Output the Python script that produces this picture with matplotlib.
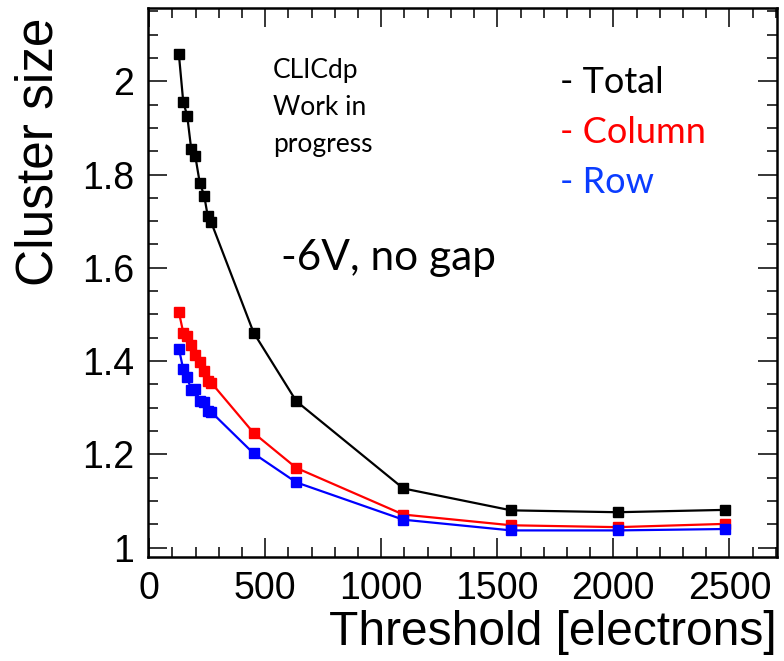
import matplotlib
matplotlib.use("Agg")
import matplotlib.pyplot as plt
from matplotlib.ticker import MultipleLocator

# Threshold scan: cluster size vs. threshold
threshold = [128, 147, 164, 181, 199, 218, 237, 252, 267, 450, 634, 1095, 1560, 2018, 2480]
total = [2.058, 1.955, 1.926, 1.855, 1.839, 1.782, 1.755, 1.712, 1.698,
         1.461, 1.314, 1.127, 1.080, 1.076, 1.081]
column = [1.505, 1.461, 1.454, 1.434, 1.412, 1.398, 1.378, 1.358, 1.354,
          1.246, 1.171, 1.071, 1.048, 1.044, 1.051]
row = [1.427, 1.382, 1.366, 1.337, 1.341, 1.314, 1.312, 1.294, 1.291,
       1.202, 1.140, 1.060, 1.037, 1.037, 1.040]

series = [("Total", total, "black", "black"),
          ("Column", column, "#ff0000", "#ff0000"),
          ("Row", row, "#0000ff", "#0a3cff")]

W, H = 784, 661
fig = plt.figure(figsize=(W / 100, H / 100), dpi=100)
ax = fig.add_axes([148 / W, 1 - 557 / H, (777 - 148) / W, (557 - 8) / H])

for name, vals, c, _ in series:
    ax.plot(threshold, vals, color=c, lw=1.6, marker="s", ms=6.5,
            mec=c, mfc=c, zorder=3)

ax.set_xlim(-5, 2705)
ax.set_ylim(0.98, 2.157)

ax.xaxis.set_major_locator(MultipleLocator(500))
ax.xaxis.set_minor_locator(MultipleLocator(100))
ax.yaxis.set_major_locator(MultipleLocator(0.2))
ax.yaxis.set_minor_locator(MultipleLocator(0.05))
ax.yaxis.set_major_formatter(plt.FuncFormatter(lambda v, p: f"{v:g}"))

tick_font = "Liberation Sans"
ax.tick_params(which="both", direction="in", top=True, right=True,
               width=1.1, color="black")
ax.tick_params(which="major", length=14, labelsize=27, pad=10)
ax.tick_params(which="minor", length=7)
for lab in ax.get_xticklabels() + ax.get_yticklabels():
    lab.set_fontfamily(tick_font)
for s in ax.spines.values():
    s.set_linewidth(1.8)

ax.set_xlabel("Threshold [electrons]", fontsize=34.5, family=tick_font,
              loc="right", labelpad=2)
ax.set_ylabel("Cluster size", fontsize=37, family=tick_font, loc="top")
ax.yaxis.set_label_coords(-0.135, 0.983)

# Annotations
ann_font = "Lato"
for i, line in enumerate(["CLICdp", "Work in", "progress"]):
    fig.text(273 / W, 1 - (78 + 37 * i) / H, line, fontsize=19,
             family=ann_font, va="baseline", ha="left")

for i, (name, _, _, tc) in enumerate(series):
    fig.text(560 / W, 1 - (93 + 50 * i) / H, "- " + name, fontsize=26,
             family=ann_font, color=tc, va="baseline", ha="left")

fig.text(281 / W, 1 - 270 / H, "-6V, no gap", fontsize=30.5,
         family=ann_font, va="baseline", ha="left")

fig.savefig("out.png", dpi=100)
